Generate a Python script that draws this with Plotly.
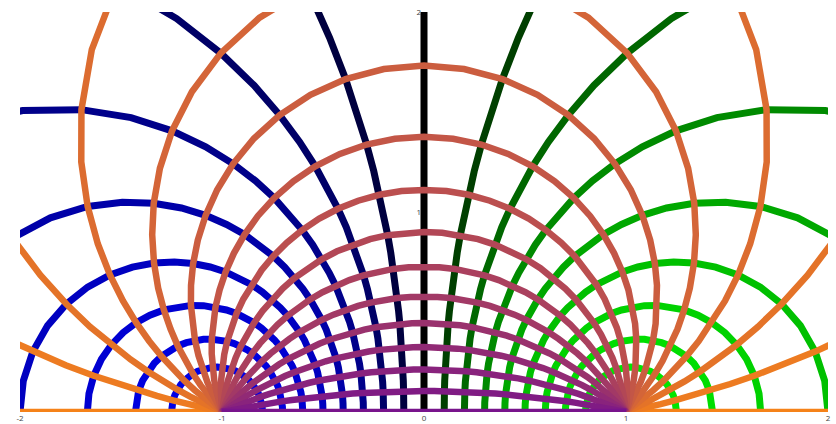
import numpy as np
import plotly.graph_objects as go

# Bipolar grid, foci at x = -1 and x = +1.
# Circles of constant tau, labelled by where they cross the segment between the foci.
tau_crossings = [-0.9, -0.8, -0.7, -0.6, -0.5, -0.4, -0.3, -0.2, -0.1, 0.0,
                 0.1, 0.2, 0.3, 0.4, 0.5, 0.6, 0.7, 0.8, 0.9]
# Circles of constant sigma (through both foci), angle in degrees.
sigma_degrees = [0, 12, 24, 36, 48, 60, 72, 84, 96, 108, 120, 132, 144, 156, 168, 180]
# Sample positions along each curve.
u_samples = [-1.0, -0.95, -0.9, -0.85, -0.8, -0.75, -0.7, -0.65, -0.6, -0.55, -0.5,
             -0.45, -0.4, -0.35, -0.3, -0.25, -0.2, -0.15, -0.1, -0.05, 0.0,
             0.05, 0.1, 0.15, 0.2, 0.25, 0.3, 0.35, 0.4, 0.45, 0.5,
             0.55, 0.6, 0.65, 0.7, 0.75, 0.8, 0.85, 0.9, 0.95, 1.0]
sigma_sample_degrees = [0, 6, 12, 18, 24, 30, 36, 42, 48, 54, 60, 66, 72, 78, 84, 90,
                        96, 102, 108, 114, 120, 126, 132, 138, 144, 150, 156, 162,
                        168, 174, 180]

x_ticks = [-2, -1, 0, 1, 2]
y_ticks = [1, 2]


def bipolar(u, sigma):
    """Map (u = tanh(tau/2), sigma) to the plane."""
    u = np.asarray(u, dtype=float)
    sigma = np.asarray(sigma, dtype=float)
    e = np.exp(-1j * sigma)
    num = (1 + u) * e + (1 - u)
    den = (1 + u) * e - (1 - u)
    with np.errstate(divide="ignore", invalid="ignore"):
        z = num / den
    xs = [float(v.real) if np.isfinite(v) else None for v in z]
    ys = [float(v.imag) if np.isfinite(v) else None for v in z]
    return xs, ys


def lerp(c0, c1, t):
    return "rgb(%d,%d,%d)" % tuple(round(a + (b - a) * t) for a, b in zip(c0, c1))


fig = go.Figure()

sig_s = np.radians(sigma_sample_degrees)
for u in tau_crossings:
    # brightness follows tanh(tau) = 2u / (1 + u^2)
    level = round(20 + 215 * 2 * abs(u) / (1 + u * u))
    if u < 0:
        color = "rgb(0,0,%d)" % level
    elif u > 0:
        color = "rgb(0,%d,0)" % level
    else:
        color = "rgb(0,0,0)"
    s = sig_s[1:] if u == 0 else sig_s
    xs, ys = bipolar(np.full(len(s), u), s)
    fig.add_trace(go.Scatter(x=xs, y=ys, mode="lines",
                             line=dict(color=color, width=7),
                             hoverinfo="skip", showlegend=False))

orange = (245, 130, 25)
purple = (120, 20, 140)
for deg in sigma_degrees:
    t = deg / 180
    xs, ys = bipolar(u_samples, np.full(len(u_samples), np.radians(deg)))
    fig.add_trace(go.Scatter(x=xs, y=ys, mode="lines",
                             line=dict(color=lerp(orange, purple, t), width=6.5),
                             hoverinfo="skip", showlegend=False))

fig.update_layout(
    width=836, height=424,
    margin=dict(l=20, r=8, t=12, b=12),
    paper_bgcolor="white", plot_bgcolor="white",
    font=dict(family="Open Sans", size=8, color="#444"),
    xaxis=dict(range=[-2, 2], tickvals=x_ticks, ticktext=[str(v) for v in x_ticks],
               showgrid=False, zeroline=False, showline=False, ticks="",
               automargin=False, fixedrange=True),
    yaxis=dict(range=[0, 2], tickvals=y_ticks, ticktext=[str(v) for v in y_ticks],
               anchor="free", position=0.5, side="left", ticklabelstandoff=3,
               showgrid=False, zeroline=False, showline=False, ticks="",
               automargin=False, fixedrange=True),
)

fig.write_html("out.html")
